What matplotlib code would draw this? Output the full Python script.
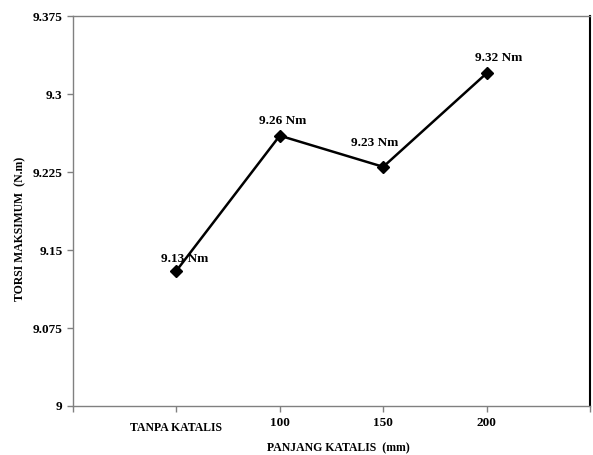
import matplotlib
matplotlib.use("Agg")
import matplotlib.pyplot as plt

categories = ["TANPA KATALIS", "100", "150", "200"]
torsi = [9.13, 9.26, 9.23, 9.32]
labels = ["9.13 Nm", "9.26 Nm", "9.23 Nm", "9.32 Nm"]
yticks = [9, 9.075, 9.15, 9.225, 9.3, 9.375]
ytick_labels = ["9", "9.075", "9.15", "9.225", "9.3", "9.375"]

plt.rcParams['font.family'] = ['Liberation Serif', 'DejaVu Serif']
plt.rcParams['font.weight'] = 'bold'

fig = plt.figure(figsize=(5.93, 4.55), dpi=100)
ax = fig.add_axes([0.123, 0.1077, 0.872, 0.857])

x = list(range(1, len(categories) + 1))
ax.plot(x, torsi, color='black', lw=1.8, marker='D', markersize=6.5,
        markerfacecolor='black', markeredgecolor='black')

offsets = [(6, 4), (2, 6), (-6, 13), (9, 7)]
for xi, yi, lab, off in zip(x, torsi, labels, offsets):
    ax.annotate(lab, (xi, yi), xytext=off, textcoords='offset points',
                ha='center', va='bottom', fontsize=9.5, fontweight='bold')

ax.set_xlim(0, len(categories) + 1)
ax.set_ylim(9, 9.375)
ax.set_yticks(yticks)
ax.set_yticklabels(ytick_labels, fontsize=9.5, fontweight='bold')
ax.set_xticks(range(0, len(categories) + 2))
ax.set_xticklabels([""] + categories + [""], fontsize=9.5, fontweight='bold')
ax.tick_params(axis='both', direction='out', length=4, color='#808080', width=1)
ax.tick_params(axis='x', pad=4)
for t in ax.get_xticklabels():
    if t.get_text() == "TANPA KATALIS":
        t.set_y(-0.012)
        t.set_fontsize(8.5)

for side in ['left', 'bottom', 'top']:
    ax.spines[side].set_color('#808080')
    ax.spines[side].set_linewidth(1)
ax.spines['right'].set_color('black')
ax.spines['right'].set_linewidth(1.5)

fig.text(0.035, 0.497, "TORSI MAKSIMUM  (N.m)", rotation=90, ha='center', va='center',
         fontsize=8.5, fontweight='bold')
fig.text(0.57, 0.015, "PANJANG KATALIS  (mm)", ha='center', va='center',
         fontsize=8.5, fontweight='bold')

fig.savefig("out.png", dpi=100)
